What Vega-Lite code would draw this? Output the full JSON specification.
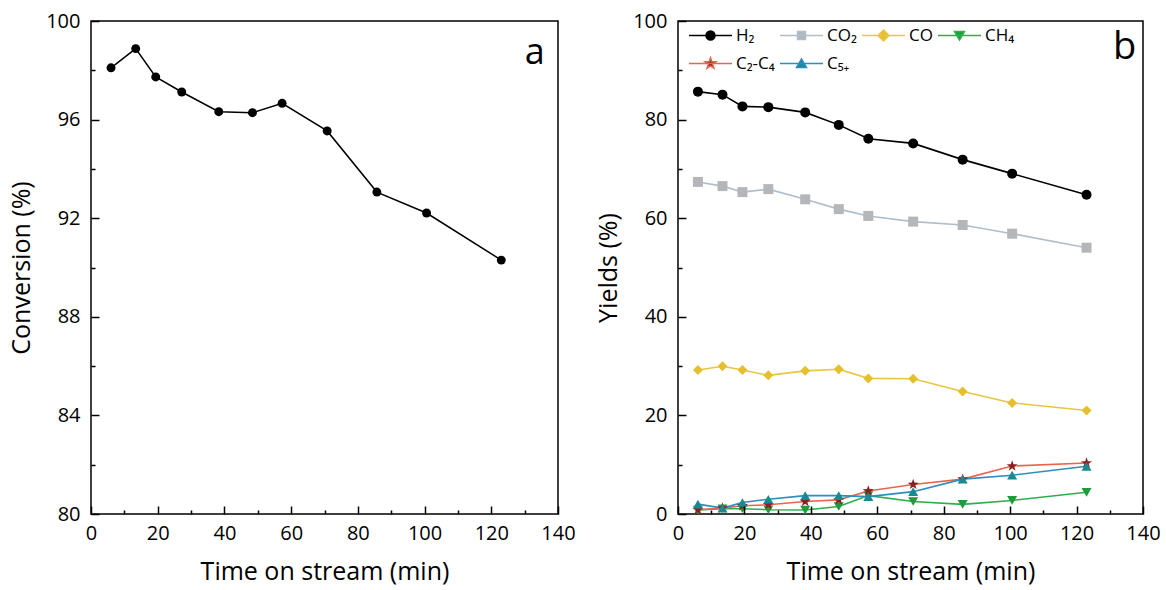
{
  "$schema": "https://vega.github.io/schema/vega-lite/v6.json",
  "padding": {"left": 8, "top": 10, "right": 5, "bottom": 5},
  "background": "white",
  "spacing": 19,
  "resolve": {"scale": {"shape": "independent", "color": "independent", "stroke": "independent", "fill": "independent"}, "legend": {"shape": "independent", "color": "independent", "stroke": "independent", "fill": "independent"}},
  "config": {
    "font": "Open Sans, DejaVu Sans",
    "view": {"stroke": "black", "strokeWidth": 1.5},
    "axis": {"grid": false, "domain": false, "labelColor": "black", "labelFontSize": 20, "titleFontSize": 25, "titleFontWeight": "normal", "titleColor": "black", "labelOverlap": false, "labelFlush": false, "labelBound": false},
    "axisX": {"labelPadding": 9, "titlePadding": 16},
    "axisY": {"labelPadding": 11, "titlePadding": 11}
  },
  "datasets": {
    "conv": [
      {"t": 6, "conv": 98.1},
      {"t": 13.4, "conv": 98.88},
      {"t": 19.4, "conv": 97.73},
      {"t": 27.2, "conv": 97.12},
      {"t": 38.3, "conv": 96.32},
      {"t": 48.4, "conv": 96.28},
      {"t": 57.3, "conv": 96.66},
      {"t": 70.8, "conv": 95.54},
      {"t": 85.7, "conv": 93.06},
      {"t": 100.6, "conv": 92.21},
      {"t": 123.0, "conv": 90.3}
    ],
    "yields": [
      {"t": 6, "series": "H2", "y": 85.67},
      {"t": 13.4, "series": "H2", "y": 85.06},
      {"t": 19.4, "series": "H2", "y": 82.68},
      {"t": 27.2, "series": "H2", "y": 82.53},
      {"t": 38.3, "series": "H2", "y": 81.46},
      {"t": 48.4, "series": "H2", "y": 78.93},
      {"t": 57.3, "series": "H2", "y": 76.1},
      {"t": 70.8, "series": "H2", "y": 75.17},
      {"t": 85.7, "series": "H2", "y": 71.88},
      {"t": 100.6, "series": "H2", "y": 69.04},
      {"t": 123.0, "series": "H2", "y": 64.75},
      {"t": 6, "series": "CO2", "y": 67.36},
      {"t": 13.4, "series": "CO2", "y": 66.51},
      {"t": 19.4, "series": "CO2", "y": 65.29},
      {"t": 27.2, "series": "CO2", "y": 65.9},
      {"t": 38.3, "series": "CO2", "y": 63.83},
      {"t": 48.4, "series": "CO2", "y": 61.84},
      {"t": 57.3, "series": "CO2", "y": 60.46},
      {"t": 70.8, "series": "CO2", "y": 59.31},
      {"t": 85.7, "series": "CO2", "y": 58.62},
      {"t": 100.6, "series": "CO2", "y": 56.86},
      {"t": 123.0, "series": "CO2", "y": 54.02},
      {"t": 6, "series": "CO", "y": 29.2},
      {"t": 13.4, "series": "CO", "y": 29.96},
      {"t": 19.4, "series": "CO", "y": 29.2},
      {"t": 27.2, "series": "CO", "y": 28.12},
      {"t": 38.3, "series": "CO", "y": 29.04},
      {"t": 48.4, "series": "CO", "y": 29.35},
      {"t": 57.3, "series": "CO", "y": 27.51},
      {"t": 70.8, "series": "CO", "y": 27.43},
      {"t": 85.7, "series": "CO", "y": 24.83},
      {"t": 100.6, "series": "CO", "y": 22.53},
      {"t": 123.0, "series": "CO", "y": 21.0},
      {"t": 6, "series": "CH4", "y": 0.8},
      {"t": 13.4, "series": "CH4", "y": 1.07},
      {"t": 19.4, "series": "CH4", "y": 1.07},
      {"t": 27.2, "series": "CH4", "y": 0.87},
      {"t": 38.3, "series": "CH4", "y": 0.8},
      {"t": 48.4, "series": "CH4", "y": 1.53},
      {"t": 57.3, "series": "CH4", "y": 3.73},
      {"t": 70.8, "series": "CH4", "y": 2.53},
      {"t": 85.7, "series": "CH4", "y": 1.95},
      {"t": 100.6, "series": "CH4", "y": 2.75},
      {"t": 123.0, "series": "CH4", "y": 4.4},
      {"t": 6, "series": "C2-C4", "y": 0.87},
      {"t": 13.4, "series": "C2-C4", "y": 1.2},
      {"t": 19.4, "series": "C2-C4", "y": 1.67},
      {"t": 27.2, "series": "C2-C4", "y": 1.87},
      {"t": 38.3, "series": "C2-C4", "y": 2.53},
      {"t": 48.4, "series": "C2-C4", "y": 2.87},
      {"t": 57.3, "series": "C2-C4", "y": 4.67},
      {"t": 70.8, "series": "C2-C4", "y": 6.0},
      {"t": 85.7, "series": "C2-C4", "y": 7.07},
      {"t": 100.6, "series": "C2-C4", "y": 9.73},
      {"t": 123.0, "series": "C2-C4", "y": 10.33},
      {"t": 6, "series": "C5+", "y": 2.0},
      {"t": 13.4, "series": "C5+", "y": 1.2},
      {"t": 19.4, "series": "C5+", "y": 2.33},
      {"t": 27.2, "series": "C5+", "y": 3.0},
      {"t": 38.3, "series": "C5+", "y": 3.73},
      {"t": 48.4, "series": "C5+", "y": 3.73},
      {"t": 57.3, "series": "C5+", "y": 3.53},
      {"t": 70.8, "series": "C5+", "y": 4.53},
      {"t": 85.7, "series": "C5+", "y": 7.07},
      {"t": 100.6, "series": "C5+", "y": 7.87},
      {"t": 123.0, "series": "C5+", "y": 9.67}
    ]
  },
  "hconcat": [
    {
      "width": 467,
      "height": 493,
      "data": {"name": "conv"},
      "resolve": {"axis": {"x": "independent", "y": "independent"}},
      "layer": [
        {
          "mark": {"type": "line", "color": "black", "strokeWidth": 1.5},
          "encoding": {
            "x": {"field": "t", "type": "quantitative", "scale": {"domain": [0, 140], "nice": false},
              "axis": {"orient": "bottom", "title": "Time on stream (min)", "values": [0, 20, 40, 60, 80, 100, 120, 140], "ticks": true, "tickSize": 8, "offset": -8, "tickColor": "black", "tickWidth": 1.5, "zindex": 1}},
            "y": {"field": "conv", "type": "quantitative", "scale": {"domain": [80, 100], "nice": false, "zero": false},
              "axis": {"orient": "left", "title": "Conversion (%)", "values": [80, 84, 88, 92, 96, 100], "ticks": true, "tickSize": 8, "offset": -8, "tickColor": "black", "tickWidth": 1.5, "zindex": 1}}
          }
        },
        {
          "mark": {"type": "point", "filled": true, "color": "black", "size": 80, "opacity": 1},
          "encoding": {
            "x": {"field": "t", "type": "quantitative",
              "axis": {"orient": "bottom", "title": null, "labels": false, "values": [10, 30, 50, 70, 90, 110, 130], "ticks": true, "tickSize": 4, "offset": -4, "tickColor": "black", "tickWidth": 1.5, "zindex": 1}},
            "y": {"field": "conv", "type": "quantitative",
              "axis": {"orient": "left", "title": null, "labels": false, "values": [82, 86, 90, 94, 98], "ticks": true, "tickSize": 4, "offset": -4, "tickColor": "black", "tickWidth": 1.5, "zindex": 1}}
          }
        },
        {
          "data": {"values": [{"label": "a"}]},
          "mark": {"type": "text", "fontSize": 36, "color": "black", "baseline": "middle", "align": "center"},
          "encoding": {
            "text": {"field": "label"},
            "x": {"datum": 133, "axis": null},
            "y": {"datum": 98.7, "axis": null}
          }
        }
      ]
    },
    {
      "width": 465,
      "height": 493,
      "data": {"name": "yields"},
      "resolve": {"axis": {"x": "independent", "y": "independent"}, "scale": {"shape": "independent", "color": "independent", "fill": "independent", "stroke": "independent"}, "legend": {"shape": "independent", "color": "independent", "fill": "independent", "stroke": "independent"}},
      "layer": [
        {
          "mark": {"type": "line", "strokeWidth": 1.6},
          "encoding": {
            "x": {"field": "t", "type": "quantitative", "scale": {"domain": [0, 140], "nice": false},
              "axis": {"orient": "bottom", "title": "Time on stream (min)", "values": [0, 20, 40, 60, 80, 100, 120, 140], "ticks": true, "tickSize": 8, "offset": -8, "tickColor": "black", "tickWidth": 1.5, "zindex": 1}},
            "y": {"field": "y", "type": "quantitative", "scale": {"domain": [0, 100], "nice": false},
              "axis": {"orient": "left", "title": "Yields (%)", "values": [0, 20, 40, 60, 80, 100], "ticks": true, "tickSize": 8, "offset": -8, "tickColor": "black", "tickWidth": 1.5, "zindex": 1}},
            "color": {"field": "series", "type": "nominal",
              "scale": {"domain": ["C5+", "C2-C4", "CH4", "CO", "CO2", "H2"], "range": ["#2a8ec0", "#e8654f", "#2bb04e", "#e8c640", "#aebfcc", "#000000"]},
              "legend": null}
          }
        },
        {
          "mark": {"type": "point", "filled": true, "size": 100, "opacity": 1},
          "encoding": {
            "x": {"field": "t", "type": "quantitative",
              "axis": {"orient": "bottom", "title": null, "labels": false, "values": [10, 30, 50, 70, 90, 110, 130], "ticks": true, "tickSize": 4, "offset": -4, "tickColor": "black", "tickWidth": 1.5, "zindex": 1}},
            "y": {"field": "y", "type": "quantitative",
              "axis": {"orient": "left", "title": null, "labels": false, "values": [10, 30, 50, 70, 90], "ticks": true, "tickSize": 4, "offset": -4, "tickColor": "black", "tickWidth": 1.5, "zindex": 1}},
            "color": {"field": "series", "type": "nominal",
              "scale": {"domain": ["CO", "CH4", "C2-C4", "C5+", "H2", "CO2"], "range": ["#e5bf2e", "#1e9b3c", "#8e1f1f", "#1a8a90", "#000000", "#b4b6ba"]},
              "legend": null},
            "shape": {"field": "series", "type": "nominal",
              "scale": {"domain": ["CO2", "H2", "CO", "CH4", "C2-C4", "C5+"],
                "range": ["square", "circle", "diamond", "triangle-down", "M0,-1.15L0.27,-0.373L1.094,-0.355L0.437,0.143L0.676,0.93L0,0.46L-0.676,0.93L-0.437,0.143L-1.094,-0.355L-0.27,-0.373Z", "triangle-up"]},
              "legend": null}
          }
        },
        {
          "transform": [{"filter": "false"}],
          "mark": {"type": "point", "filled": true, "size": 100},
          "encoding": {
            "x": {"field": "t", "type": "quantitative", "axis": null},
            "y": {"field": "y", "type": "quantitative", "axis": null},
            "fill": {"field": "series", "type": "nominal",
              "scale": {"domain": ["H2", "CO2", "CO", "CH4", "C2-C4", "C5+"], "range": ["#000000", "#b4b6ba", "#e5bf2e", "#1e9b3c", "#8e1f1f", "#1a8a90"]}},
            "stroke": {"field": "series", "type": "nominal",
              "scale": {"domain": ["H2", "CO2", "CO", "CH4", "C2-C4", "C5+"], "range": ["#000000", "#aebfcc", "#e8c640", "#2bb04e", "#e8654f", "#2a8ec0"]}},
            "shape": {"field": "series", "type": "nominal",
              "scale": {"domain": ["H2", "CO2", "CO", "CH4", "C2-C4", "C5+"],
                "range": ["M-0.7,0H7.9M4.5,0A0.9,0.9,0,1,1,2.7,0A0.9,0.9,0,1,1,4.5,0Z", "M-0.7,0H7.9M2.8,-0.8H4.4V0.8H2.8Z", "M-0.7,0H7.9M3.6,-1.1L4.7,0L3.6,1.1L2.5,0Z", "M-0.7,0H7.9M2.6,-0.8H4.6L3.6,0.9Z", "M-0.7,0H7.9M3.6,-1.15L3.87,-0.373L4.694,-0.355L4.037,0.143L4.276,0.93L3.6,0.46L2.924,0.93L3.163,0.143L2.506,-0.355L3.33,-0.373Z", "M-0.7,0H7.9M2.6,0.8H4.6L3.6,-0.9Z"]},
              "legend": {
                "title": null, "orient": "top-left", "direction": "horizontal", "columns": 4, "gridAlign": "none",
                "labelFontSize": 17, "labelColor": "black", "symbolSize": 100, "symbolStrokeWidth": 1.5, "symbolOpacity": 1, "labelOffset": 35,
                "columnPadding": 0, "rowPadding": 10, "offset": 6, "padding": 0,
                "labelExpr": "datum.label=='H2'?'H₂':datum.label=='CO2'?'CO₂':datum.label=='CH4'?'CH₄':datum.label=='C2-C4'?'C₂-C₄':datum.label=='C5+'?'C₅₊':datum.label"
              }
            }
          }
        },
        {
          "data": {"values": [{"label": "b"}]},
          "mark": {"type": "text", "fontSize": 38, "color": "black", "baseline": "middle", "align": "center"},
          "encoding": {
            "text": {"field": "label"},
            "x": {"datum": 134.5, "axis": null},
            "y": {"datum": 94.6, "axis": null}
          }
        }
      ]
    }
  ]
}
